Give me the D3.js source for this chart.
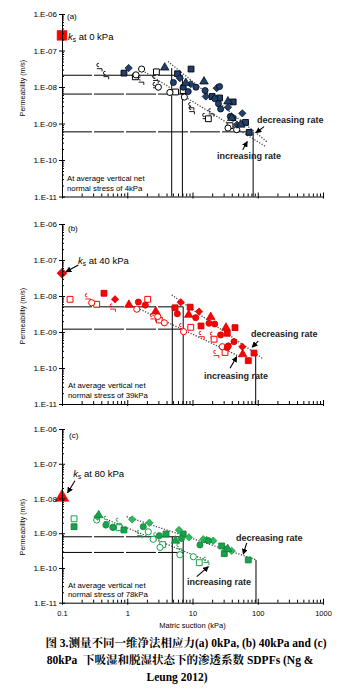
<!DOCTYPE html>
<html><head><meta charset="utf-8">
<script src="https://cdn.jsdelivr.net/npm/d3@7"></script>
<style>body{margin:0;background:#fff}svg{display:block}</style>
</head><body><svg id="chart" width="355" height="700"></svg>
<script>
// ---------- axis ticks ----------
const xTickValues = [0.1, 1, 10, 100, 1000];
const xTickLabels = ["0.1", "1", "10", "100", "1000"];
const yTickValues = [1e-11, 1e-10, 1e-9, 1e-8, 1e-7, 1e-6];
const yTickLabels = ["1.E-11", "1.E-10", "1.E-09", "1.E-08", "1.E-07", "1.E-06"];

// ---------- panel (a) data: [suction kPa, permeability m/s] ----------
const aFilledSquare = [[0.89,2.4e-8],[5.9,2.3e-8],[9.5,3.1e-8],[20,5.5e-9],[26,5.0e-9],[42,3.9e-9],[65,1.07e-9],[74,5.7e-10]];
const aFilledDiamond = [[1.05,3.3e-8],[6.4,1.75e-8],[9.4,1.2e-8],[16,5.5e-9],[23.5,9.3e-9],[35,2.8e-9],[58,1.9e-9],[48,9.3e-10]];
const aFilledCircle = [[5.1,1.33e-8],[7.2,9.9e-9],[8.6,7.5e-9],[11.3,9.9e-9],[15.6,8.0e-9],[22,4.8e-9],[25,3.5e-9],[27,2.5e-9],[38,1.56e-9],[26,1.03e-8],[42,1.41e-9]];
const aFilledTriangle = [[3.75,3.4e-8],[7.9,1.28e-8],[15,1.41e-8],[35,4.0e-9],[40,1.41e-9],[55,9.3e-10]];
const aOpenSquare = [[2.8,2.6e-8],[1.33,1.9e-8],[5.5,7.3e-9],[7.2,8.0e-9],[17.5,1.35e-9],[37.6,8.7e-10]];
const aOpenCircle = [[1.36,2.15e-8],[1.66,3.1e-8],[3.0,9.9e-9],[4.5,7.1e-9],[7.5,5.3e-9],[35,7.5e-10],[47.5,6.8e-10]];
const aHook = [[0.38,3.3e-8],[0.48,2.0e-8],[1.66,1.41e-8],[2.76,1.57e-8],[2.76,9.9e-9],[9.7,2.8e-9],[9.9,2.2e-9],[19.7,1.9e-9],[15.9,1.41e-9]];
const aKs = [[0.1,2.6e-7]];
const aHLines = [[2.1e-8,7.0],[6.4e-9,7.0],[5.9e-10,85]];   // [k, suction end]
const aVLines = [[4.8,3.3e-8],[7.0,2.1e-8],[85,5.9e-10]];   // [suction, k top]
const aDecr = [[4.2,5.0e-8],[143,3.0e-10]];
const aIncr = [[1.57,3.1e-8],[129,2.4e-10]];
const aArrows = [[[125,8.2e-10],[94,5.6e-10]],[[58.8,1.92e-10],[69,3.2e-10]]];

// ---------- panel (b) data ----------
const bOpenSquare = [[0.133,8.1e-9],[0.34,5.9e-9],[2.06,8.1e-9],[3.1,2.15e-9],[9.4,1.35e-9],[21.4,6.3e-10],[31.5,2.7e-10]];
const bFilledSquare = [[0.44,1.19e-8],[5.4,4.7e-9],[9.2,4.9e-9],[13.5,1.47e-9],[34.1,9.2e-10],[44.8,1.32e-9],[87.6,2.6e-10],[71.6,1.6e-10]];
const bFilledCircle = [[1.48,6.8e-9],[1.89,5.6e-9],[5.85,3.2e-9],[11.2,2.5e-9],[17.9,1.75e-9],[21.9,1.67e-9],[27,8.3e-10],[35.4,4.1e-10],[43.3,5.4e-10],[34,3.7e-10]];
const bFilledDiamond = [[0.65,8.1e-9],[6.6,6.7e-9],[12.6,3.7e-9],[58,3.9e-10]];
const bFilledTriangle = [[1.06,5.7e-9],[2.73,3.7e-9],[8.75,3.0e-9],[19,2.6e-9],[32.6,1.32e-9],[58.8,2.4e-10]];
const bOpenCircle = [[0.285,6.5e-9],[1.40,4.3e-9],[2.93,2.7e-9],[3.7,1.8e-9],[7.3,1.02e-9],[28.6,3.9e-10]];
const bHook = [[0.253,8.6e-9],[0.61,4.5e-9],[2.51,2.4e-9],[14,7.7e-10],[20.8,7.4e-10],[23.5,2.3e-10],[7.0,1.27e-9]];
const bKs = [[0.1,4.3e-8]];
const bHLines = [[5.0e-9,7.2],[1.2e-9,7.2]];
const bVLines = [[4.9,5.0e-9],[7.2,5.0e-9],[93,2.6e-10]];
const bDecr = [[4.8,1.07e-8],[122,1.78e-10]];
const bIncr = [[1.31,5.0e-9],[53.5,2.06e-10]];
const bArrows = [[[102,5.6e-10],[82,3.8e-10]],[[37.6,9.8e-11],[47.6,2.06e-10]],[[0.178,7.3e-8],[0.115,4.7e-8]]];

// ---------- panel (c) data ----------
const cOpenSquare = [[0.153,2.6e-9],[0.75,1.44e-9],[3.49,4.7e-10],[12.7,1.42e-10]];
const cFilledSquare = [[0.153,1.54e-9],[0.89,1.24e-9],[3.93,9.5e-10],[7.2,9.5e-10],[28,4.3e-10],[30.7,2.6e-10],[71.6,1.7e-10]];
const cFilledDiamond = [[0.35,3.0e-9],[1.19,2.5e-9],[2.18,2.0e-9],[6.2,1.24e-9],[8.8,7.6e-10],[14.6,6.7e-10],[20.8,6.1e-10],[39.9,3.1e-10],[16.5,6.4e-10]];
const cFilledCircle = [[0.47,1.72e-9],[0.61,1.48e-9],[1.76,1.54e-9],[3.1,8.5e-10],[6.8,7.1e-10],[13,4.6e-10],[17.5,6.1e-10],[33.4,3.5e-10]];
const cFilledTriangle = [[0.365,3.3e-9],[5.5,6.1e-10],[34.6,3.5e-10]];
const cOpenCircle = [[0.34,2.4e-9],[0.60,1.48e-9],[2.1,1.1e-9],[3.18,3.9e-10],[6.4,2.4e-10],[10.3,2.1e-10],[2.5,6.7e-10]];
const cHook = [[0.49,2.25e-9],[0.75,2.0e-9],[1.57,8.9e-10],[2.83,7.6e-10],[6.4,3.7e-10],[16.5,1.5e-10]];
const cKs = [[0.1,1.08e-8]];
const cHLines = [[7.9e-10,7.2],[2.8e-10,7.2]];
const cVLines = [[4.9,7.9e-10],[7.2,7.9e-10],[94,1.7e-10]];
const cDecr = [[0.98,3.0e-9],[96,1.7e-10]];
const cIncr = [[0.48,2.5e-9],[18.5,1.5e-10]];
const cArrows = [[[67.7,5.3e-10],[60,2.5e-10]],[[11.6,5.6e-11],[17.5,1.09e-10]],[[0.158,3.25e-8],[0.122,1.47e-8]]];

// ---------- drawing ----------
const svg = d3.select("#chart");
svg.append("rect").attr("width",355).attr("height",700).attr("fill","#fff");
const defs = svg.append("defs");
defs.append("marker").attr("id","arr").attr("viewBox","0 0 8 8").attr("refX",7).attr("refY",4)
  .attr("markerWidth",6).attr("markerHeight",6).attr("markerUnits","userSpaceOnUse").attr("orient","auto")
  .append("path").attr("d","M0,0L8,4L0,8Z").attr("fill","#000");

const x = d3.scaleLog().domain([0.1,1000]).range([62,323]);
const FONT = "Arial, 'Liberation Sans', sans-serif";

const shapes = {
  square: d3.symbol(d3.symbolSquare, 34)(),
  circle: d3.symbol(d3.symbolCircle, 30)(),
  triangle: d3.symbol(d3.symbolTriangle, 32)(),
  diamond: "M0,-3.7L3.7,0L0,3.7L-3.7,0Z",
  hook: "M-1,-4.6A1.6,1.6 0 1 0 -1,-1.5M-3,0.6H2.2V3.3"
};

function minorVals(){
  const v=[]; for(let e=-11;e<-6;e++) for(let m=2;m<=9;m++) v.push(m*Math.pow(10,e)); return v;
}
function minorX(){
  const v=[]; for(let e=-1;e<3;e++) for(let m=2;m<=9;m++) v.push(m*Math.pow(10,e)); return v;
}

function panel(cfg){
  const y = d3.scaleLog().domain([1e-11,1e-6]).range([cfg.bottom, cfg.top]);
  const g = svg.append("g");
  // reference lines
  g.selectAll(null).data(cfg.hLines).join("line")
    .attr("x1",x(0.1)).attr("x2",d=>x(d[1])).attr("y1",d=>y(d[0])).attr("y2",d=>y(d[0]))
    .attr("stroke","#000").attr("stroke-width",1).attr("stroke-dasharray","30,2");
  g.selectAll(null).data(cfg.vLines).join("line")
    .attr("x1",d=>x(d[0])).attr("x2",d=>x(d[0])).attr("y1",d=>y(d[1])).attr("y2",cfg.bottom)
    .attr("stroke","#000").attr("stroke-width",1);
  // dotted trend lines
  const line = d3.line().x(d=>x(d[0])).y(d=>y(d[1]));
  [cfg.decr, cfg.incr].forEach(L=>{
    g.append("path").attr("d",line(L)).attr("fill","none").attr("stroke","#444")
      .attr("stroke-width",1.3).attr("stroke-dasharray","1.2,1.6");
  });
  // series
  function draw(data, shape, fill, stroke, sw){
    g.selectAll(null).data(data).join("path")
      .attr("transform",d=>`translate(${x(d[0])},${y(d[1])})`)
      .attr("d",shapes[shape]).attr("fill",fill).attr("stroke",stroke).attr("stroke-width",sw);
  }
  const C = cfg.col;
  draw(cfg.hook, "hook", "none", C.open, 0.9);
  draw(cfg.openSquare, "square", "#fff", C.open, 1);
  draw(cfg.openCircle, "circle", "#fff", C.open, 1);
  draw(cfg.fSquare, "square", C.fill, C.edge, 0.9);
  draw(cfg.fDiamond, "diamond", C.fill2 || C.fill, C.edge, 0.6);
  draw(cfg.fCircle, "circle", C.fill, C.edge, 0.7);
  draw(cfg.fTriangle, "triangle", C.fill, C.edge, 0.7);
  // ks marker
  g.selectAll(null).data(cfg.ks).join("path")
    .attr("transform",d=>`translate(${x(d[0])},${y(d[1])})`)
    .attr("d", cfg.ksShape).attr("fill","#ff0000").attr("stroke", cfg.ksStroke).attr("stroke-width",0.6);
  // arrows
  g.selectAll(null).data(cfg.arrows).join("line")
    .attr("x1",d=>x(d[0][0])).attr("y1",d=>y(d[0][1])).attr("x2",d=>x(d[1][0])).attr("y2",d=>y(d[1][1]))
    .attr("stroke","#000").attr("stroke-width",1.1).attr("marker-end","url(#arr)");

  // axes
  const ya = g.append("g").attr("transform",`translate(${x(0.1)},0)`)
    .call(d3.axisLeft(y).tickValues(yTickValues).tickFormat((d,i)=>yTickLabels[i]).tickSize(3).tickSizeOuter(0).tickPadding(2));
  ya.selectAll(".tick line").attr("x1",3);
  ya.selectAll("text").attr("font-family",FONT).attr("font-size",8).attr("fill","#000");
  g.append("g").attr("transform",`translate(${x(0.1)},0)`)
    .call(d3.axisLeft(y).tickValues(minorVals()).tickFormat("").tickSize(-2).tickSizeOuter(0))
    .select(".domain").remove();
  const xa = g.append("g").attr("transform",`translate(0,${cfg.bottom})`)
    .call(d3.axisBottom(x).tickValues(xTickValues).tickFormat((d,i)=>cfg.xLabels ? xTickLabels[i] : "").tickSize(2).tickSizeOuter(0).tickPadding(6));
  xa.selectAll(".tick line").attr("y1",-4);
  xa.selectAll("text").attr("font-family",FONT).attr("font-size",7.5).attr("fill","#000");
  g.append("g").attr("transform",`translate(0,${cfg.bottom})`)
    .call(d3.axisBottom(x).tickValues(minorX()).tickFormat("").tickSize(-3).tickSizeOuter(0))
    .select(".domain").remove();
  g.selectAll(".domain, .tick line").attr("stroke","#000");

  // y title
  g.append("text").attr("transform",`translate(22,${cfg.titleY}) rotate(-90)`)
    .attr("text-anchor","middle").attr("dominant-baseline","central")
    .attr("font-family",FONT).attr("font-size",7).text("Permeability (m/s)");
  // texts
  g.append("text").attr("x",cfg.lab[0]).attr("y",cfg.lab[1]).attr("dominant-baseline","central")
    .attr("font-family",FONT).attr("font-size",8).text(cfg.label);
  const ks = g.append("text").attr("x",cfg.ksPos[0]).attr("y",cfg.ksPos[1]).attr("dominant-baseline","central")
    .attr("font-family",FONT).attr("font-size",9.5);
  ks.append("tspan").attr("font-style","italic").text("k");
  ks.append("tspan").attr("font-size",6.5).attr("dy",2.5).text("s");
  ks.append("tspan").attr("dy",-2.5).text(" at " + cfg.ksText);
  g.append("text").attr("x",cfg.decPos[0]).attr("y",cfg.decPos[1]).attr("dominant-baseline","central")
    .attr("font-family",FONT).attr("font-size",9).attr("font-weight","bold").attr("fill","#222").text("decreasing rate");
  g.append("text").attr("x",cfg.incPos[0]).attr("y",cfg.incPos[1]).attr("dominant-baseline","central")
    .attr("font-family",FONT).attr("font-size",9).attr("font-weight","bold").attr("fill","#222").text("increasing rate");
  g.append("text").attr("x",cfg.notePos[0]).attr("y",cfg.notePos[1]).attr("dominant-baseline","central")
    .attr("font-family",FONT).attr("font-size",7.8).text("At average vertical net");
  g.append("text").attr("x",cfg.notePos[0]).attr("y",cfg.notePos[1]+cfg.noteGap).attr("dominant-baseline","central")
    .attr("font-family",FONT).attr("font-size",7.8).text(cfg.note2);
}

panel({top:14, bottom:196.5, titleY:88, label:"(a)", lab:[67,16], ksPos:[68,36], ksText:"0 kPa",
  decPos:[257,119.5], incPos:[217,156], notePos:[67,178], noteGap:10, note2:"normal stress of 4kPa",
  col:{fill:"#1f3f6e", edge:"#000", open:"#000"},
  hook:aHook, openSquare:aOpenSquare, openCircle:aOpenCircle, fSquare:aFilledSquare, fDiamond:aFilledDiamond,
  fCircle:aFilledCircle, fTriangle:aFilledTriangle, ks:aKs, ksShape:d3.symbol(d3.symbolSquare,95)(), ksStroke:"#ff0000",
  hLines:aHLines, vLines:aVLines, decr:aDecr, incr:aIncr, arrows:aArrows, xLabels:false});

panel({top:224, bottom:404, titleY:316, label:"(b)", lab:[68,228], ksPos:[78,260], ksText:"40 kPa",
  decPos:[251,334], incPos:[204,375.7], notePos:[68,385.7], noteGap:10, note2:"normal stress of 39kPa",
  col:{fill:"#ff0000", edge:"#cc0000", open:"#ff0000"},
  hook:bHook, openSquare:bOpenSquare, openCircle:bOpenCircle, fSquare:bFilledSquare, fDiamond:bFilledDiamond,
  fCircle:bFilledCircle, fTriangle:bFilledTriangle, ks:bKs, ksShape:"M0,-5L5,0L0,5L-5,0Z", ksStroke:"#cc0000",
  hLines:bHLines, vLines:bVLines, decr:bDecr, incr:bIncr, arrows:bArrows, xLabels:false});

panel({top:429, bottom:602.7, titleY:527, label:"(c)", lab:[69,435], ksPos:[73.3,473.3], ksText:"80 kPa",
  decPos:[236,538.3], incPos:[187,582.3], notePos:[68,585.7], noteGap:8.5, note2:"normal stress of 78kPa",
  col:{fill:"#16a34a", fill2:"#2bbd5a", edge:"#0e7f37", open:"#16a34a"},
  hook:cHook, openSquare:cOpenSquare, openCircle:cOpenCircle, fSquare:cFilledSquare, fDiamond:cFilledDiamond,
  fCircle:cFilledCircle, fTriangle:cFilledTriangle, ks:cKs, ksShape:d3.symbol(d3.symbolTriangle,80)(), ksStroke:"#ff0000",
  hLines:cHLines, vLines:cVLines, decr:cDecr, incr:cIncr, arrows:cArrows, xLabels:true});

// x title
svg.append("text").attr("x",x(10)).attr("y",625).attr("text-anchor","middle").attr("dominant-baseline","central")
  .attr("font-family",FONT).attr("font-size",7.5).text("Matric suction (kPa)");

// caption
const captionLines = ["图 3.测量不同一维净法相应力(a) 0kPa, (b) 40kPa and (c)",
  "80kPa  下吸湿和脱湿状态下的渗透系数 SDPFs (Ng &", "Leung 2012)"];
svg.selectAll(".cap").data(captionLines).join("text").attr("class","cap")
  .attr("x",(d,i)=>[186,180,177][i]).attr("y",(d,i)=>647+i*17).attr("text-anchor","middle")
  .attr("font-family","'Liberation Serif', 'Noto Serif CJK SC', 'Noto Sans CJK SC', serif")
  .attr("font-size",11.5).attr("font-weight","bold").attr("xml:space","preserve").style("white-space","pre")
  .text(d=>d);
</script></body></html>
